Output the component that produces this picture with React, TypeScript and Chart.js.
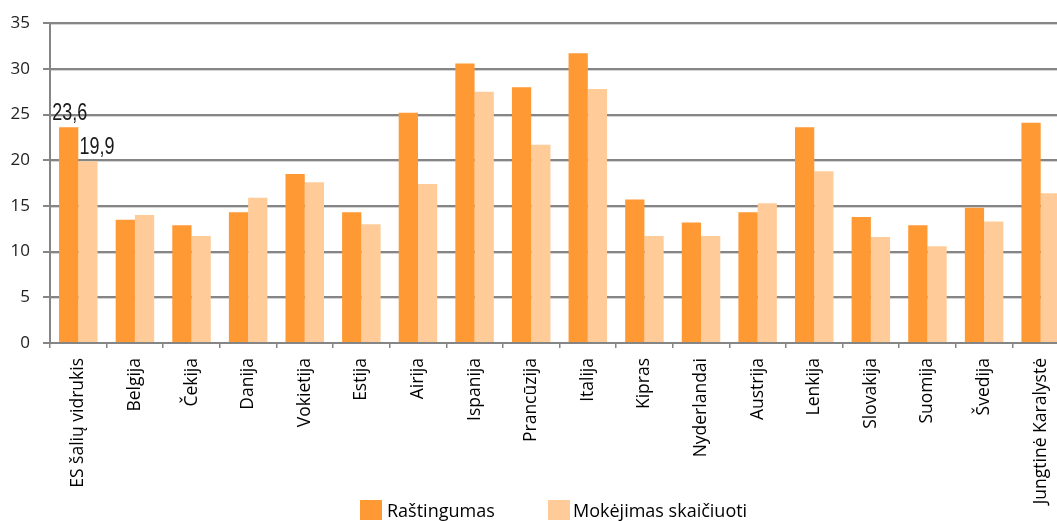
import React, { useEffect, useRef } from "react";
import { Chart, registerables } from "chart.js";

Chart.register(...registerables);

const categories = [
  "ES šalių vidrukis",
  "Belgija",
  "Čekija",
  "Danija",
  "Vokietija",
  "Estija",
  "Airija",
  "Ispanija",
  "Prancūzija",
  "Italija",
  "Kipras",
  "Nyderlandai",
  "Austrija",
  "Lenkija",
  "Slovakija",
  "Suomija",
  "Švedija",
  "Jungtinė Karalystė",
];

const rastingumas = [23.6, 13.5, 12.9, 14.3, 18.5, 14.3, 25.2, 30.6, 28.0, 31.7, 15.7, 13.2, 14.3, 23.6, 13.8, 12.9, 14.8, 24.1];
const skaiciuoti = [19.9, 14.0, 11.7, 15.9, 17.6, 13.0, 17.4, 27.5, 21.7, 27.8, 11.7, 11.7, 15.3, 18.8, 11.6, 10.6, 13.3, 16.4];

const seriesNames = ["Raštingumas", "Mokėjimas skaičiuoti"];
const seriesColors = ["#FF9933", "#FFCC99"];

const yMin = 0;
const yMax = 35;
const yStep = 5;

// only the first category carries value labels
const labeledCategory = 0;

const FONT = '"Open Sans", "Noto Sans", sans-serif';

const fmt = (v: number) => v.toFixed(1).replace(".", ",");

const gridShadowPlugin = {
  id: "gridShadow",
  beforeDatasetsDraw(chart: any) {
    const { ctx, chartArea } = chart;
    const y = chart.scales.y;
    ctx.save();
    ctx.strokeStyle = "#d4d4d4";
    ctx.lineWidth = 1;
    y.ticks.forEach((t: any) => {
      if (t.value === yMin) return;
      const py = Math.round(y.getPixelForValue(t.value)) + 1.5;
      ctx.beginPath();
      ctx.moveTo(chartArea.left + 1, py);
      ctx.lineTo(chartArea.right, py);
      ctx.stroke();
    });
    ctx.restore();
  },
};

const valueLabelPlugin = {
  id: "valueLabels",
  afterDatasetsDraw(chart: any) {
    const { ctx } = chart;
    ctx.save();
    ctx.font = '23px "Liberation Sans", Arial, sans-serif';
    ctx.fillStyle = "#1a1a1a";
    ctx.textBaseline = "alphabetic";
    ctx.textAlign = "center";
    const squeeze = 0.78;
    chart.data.datasets.forEach((ds: any, i: number) => {
      const meta = chart.getDatasetMeta(i);
      const el = meta.data[labeledCategory];
      if (!el) return;
      const v = ds.data[labeledCategory];
      const dx = i === 0 ? 1 : 9;
      ctx.save();
      ctx.translate(el.x + dx, el.y - 7);
      ctx.scale(squeeze, 1);
      ctx.fillText(fmt(v), 0, 0);
      ctx.restore();
    });
    ctx.restore();
  },
};

export default function App() {
  const ref = useRef<HTMLCanvasElement | null>(null);

  useEffect(() => {
    document.body.style.overflow = "hidden";
    const canvas = ref.current;
    if (!canvas) return;
    const chart = new Chart(canvas, {
      type: "bar",
      data: {
        labels: categories,
        datasets: [
          {
            label: seriesNames[0],
            data: rastingumas,
            backgroundColor: seriesColors[0],
            borderWidth: 0,
            categoryPercentage: 0.68,
            barPercentage: 1.0,
          },
          {
            label: seriesNames[1],
            data: skaiciuoti,
            backgroundColor: seriesColors[1],
            borderWidth: 0,
            categoryPercentage: 0.68,
            barPercentage: 1.0,
          },
        ],
      },
      options: {
        responsive: false,
        animation: false,
        devicePixelRatio: 1,
        layout: { padding: { top: 21, left: 10, right: 1, bottom: 0 } },
        plugins: {
          legend: { display: false },
          title: { display: false },
          tooltip: { enabled: false },
        },
        scales: {
          x: {
            offset: true,
            afterFit(scale: any) {
              scale.height = 178;
              scale.paddingRight = 0;
              scale.paddingLeft = 0;
            },
            grid: {
              offset: true,
              drawOnChartArea: false,
              drawTicks: true,
              tickLength: 5,
              color: "#858585",
              lineWidth: 1.5,
            },
            border: { display: true, color: "#858585", width: 2 },
            ticks: {
              minRotation: 90,
              maxRotation: 90,
              autoSkip: false,
              padding: 10,
              color: "#000",
              font: { family: FONT, size: 17.5 },
            },
          },
          y: {
            min: yMin,
            max: yMax,
            afterFit(scale: any) {
              scale.width = 40;
            },
            ticks: {
              stepSize: yStep,
              padding: 13,
              color: "#222",
              font: { family: FONT, size: 17 },
            },
            grid: {
              color: "#858585",
              lineWidth: 2,
              drawTicks: true,
              tickLength: 7,
            },
            border: { display: true, color: "#858585", width: 2 },
          },
        },
      },
      plugins: [gridShadowPlugin, valueLabelPlugin],
    });
    return () => chart.destroy();
  }, []);

  const legendText: React.CSSProperties = {
    position: "absolute",
    top: 500,
    fontFamily: FONT,
    fontSize: 18,
    lineHeight: "20px",
    color: "#000",
    whiteSpace: "nowrap",
  };
  const box = (c: string, left: number): React.CSSProperties => ({
    position: "absolute",
    top: 500,
    left,
    width: 22,
    height: 20,
    background: c,
  });

  return (
    <div style={{ position: "fixed", left: 0, top: 0, width: 1070, height: 521, background: "#fff" }}>
      <canvas ref={ref} width={1070} height={521} style={{ width: 1070, height: 521, display: "block" }} />
      <div style={box(seriesColors[0], 360)} />
      <div style={{ ...legendText, left: 387 }}>{seriesNames[0]}</div>
      <div style={box(seriesColors[1], 548)} />
      <div style={{ ...legendText, left: 573 }}>{seriesNames[1]}</div>
    </div>
  );
}
